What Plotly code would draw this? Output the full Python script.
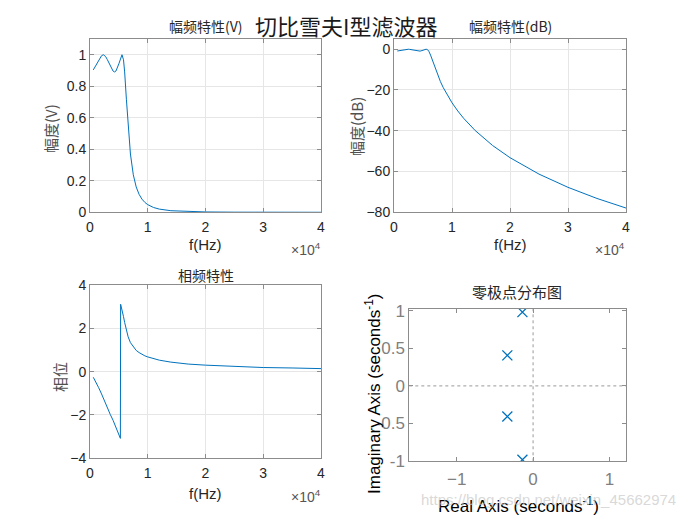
import plotly.graph_objects as go

# the page body adds an 8px margin; the figure fills the rest of the 692x519 window
OFF = 8
W, H = 692 - OFF, 519 - OFF

# ---- data ----
freq_hz = [570, 1000, 1500, 2000, 2300, 2500, 2700, 3000, 3500, 4000,
           4250, 4500, 5000, 5260, 5300, 5540, 5800, 6000, 6300, 6600,
           7000, 7500, 8000, 8500, 9000, 9500, 10000, 11000, 12000, 14000,
           17000, 20000, 25000, 30000, 35000, 40000]
mag_v = [0.904, 0.929, 0.965, 0.994, 1.000, 0.997, 0.989, 0.969, 0.927, 0.896,
         0.891, 0.897, 0.943, 0.978, 0.983, 1.000, 0.968, 0.891, 0.718, 0.544,
         0.370, 0.238, 0.161, 0.114, 0.0834, 0.0628, 0.0485, 0.0305, 0.0203, 0.0101,
         0.0043, 0.0022, 0.0009, 0.0004, 0.0002, 0.0001]
mag_db = [-0.88, -0.64, -0.31, -0.05, 0.00, -0.02, -0.10, -0.27, -0.66, -0.96,
          -1.00, -0.94, -0.52, -0.20, -0.15, 0.00, -0.28, -1.00, -2.88, -5.29,
          -8.63, -12.48, -15.87, -18.88, -21.58, -24.04, -26.29, -30.32, -33.87, -39.91,
          -47.24, -53.21, -61.27, -67.76, -73.21, -77.91]
phase_rad = [-0.26, -0.47, -0.74, -1.03, -1.23, -1.35, -1.48, -1.67, -1.97, -2.25,
             -2.40, -2.54, -2.88, -3.08, 3.11, 2.87, 2.54, 2.27, 1.90, 1.61,
             1.34, 1.13, 0.98, 0.88, 0.79, 0.73, 0.68, 0.59, 0.53, 0.44,
             0.35, 0.30, 0.23, 0.19, 0.17, 0.14]
pole_re = [-0.1395, -0.3369, -0.3369, -0.1395]
pole_im = [0.9834, 0.4073, -0.4073, -0.9834]

f_ticks = [0, 10000, 20000, 30000, 40000]
f_ticktext = ['0', '1', '2', '3', '4']

BLUE = '#0072BD'
FRAME = '#8c8c8c'
TXT = '#262626'
LBL = '#505050'
GRID = '#e6e6e6'
SANS = 'Liberation Sans, Arial, sans-serif'
CJK = 'Noto Sans CJK SC, sans-serif'


def px(xp):
    return (xp - OFF) / W


def py(yp):
    return 1 - (yp - OFF) / H


fig = go.Figure()
fig.add_trace(go.Scatter(x=freq_hz, y=mag_v, mode='lines', line=dict(color=BLUE, width=1),
                         xaxis='x', yaxis='y', showlegend=False))
fig.add_trace(go.Scatter(x=freq_hz, y=mag_db, mode='lines', line=dict(color=BLUE, width=1),
                         xaxis='x2', yaxis='y2', showlegend=False))
fig.add_trace(go.Scatter(x=freq_hz, y=phase_rad, mode='lines', line=dict(color=BLUE, width=1),
                         xaxis='x3', yaxis='y3', showlegend=False))
fig.add_trace(go.Scatter(x=pole_re, y=pole_im, mode='markers',
                         marker=dict(symbol='x-thin', size=10, line=dict(color=BLUE, width=1.3)),
                         xaxis='x4', yaxis='y4', showlegend=False))

common = dict(showline=True, linecolor=FRAME, linewidth=1, mirror='ticks', ticks='inside',
              ticklen=4, tickcolor=FRAME, showgrid=True, gridcolor=GRID, gridwidth=1,
              zeroline=False, automargin=False,
              tickfont=dict(family=SANS, size=14, color=TXT))
xcommon = dict(common, ticklabelstandoff=2)

dom_x_left = [px(90), px(321)]
dom_x_right = [px(394), px(626)]
dom_y_top = [py(212.3), py(39)]
dom_y_bot = [py(458.3), py(285)]

fig.update_layout(
    width=W, height=H, margin=dict(l=0, r=0, t=0, b=0),
    paper_bgcolor='white', plot_bgcolor='white',
    xaxis=dict(xcommon, domain=dom_x_left, range=[0, 40000], tickvals=f_ticks, ticktext=f_ticktext,
               anchor='y'),
    yaxis=dict(common, domain=dom_y_top, range=[0, 1.1], tickvals=[0, 0.2, 0.4, 0.6, 0.8, 1],
               ticktext=['0', '0.2', '0.4', '0.6', '0.8', '1'], anchor='x'),
    xaxis2=dict(xcommon, domain=dom_x_right, range=[0, 40000], tickvals=f_ticks, ticktext=f_ticktext,
                anchor='y2'),
    yaxis2=dict(common, domain=dom_y_top, range=[-80, 5], tickvals=[-80, -60, -40, -20, 0],
                anchor='x2'),
    xaxis3=dict(xcommon, domain=dom_x_left, range=[0, 40000], tickvals=f_ticks, ticktext=f_ticktext,
                anchor='y3'),
    yaxis3=dict(common, domain=dom_y_bot, range=[-4, 4], tickvals=[-4, -2, 0, 2, 4], anchor='x3'),
    xaxis4=dict(xcommon, domain=[px(409.3), px(626.3)], range=[-1.62, 1.22], tickvals=[-1, 0, 1],
                showgrid=False, anchor='y4',
                tickfont=dict(family=SANS, size=17, color='#808080')),
    yaxis4=dict(common, domain=[py(461.3), py(309)], range=[-1.005, 1.025],
                tickvals=[-1, -0.5, 0, 0.5, 1], ticktext=['-1', '-0.5', '0', '0.5', '1'],
                showgrid=False, anchor='x4',
                tickfont=dict(family=SANS, size=17, color='#808080')),
)

# dotted zero lines on the pole-zero map
fig.add_shape(type='line', xref='x4', yref='y4 domain', x0=0, x1=0, y0=0, y1=1,
              line=dict(color='#9a9a9a', width=1, dash='dot'))
fig.add_shape(type='line', xref='x4 domain', yref='y4', x0=0, x1=1, y0=0, y1=0,
              line=dict(color='#9a9a9a', width=1, dash='dot'))


def ann(text, x, y, size, color=TXT, family=CJK, angle=0, xanchor='center'):
    fig.add_annotation(text=text, x=px(x), y=py(y), xref='paper', yref='paper',
                       showarrow=False, textangle=angle, xanchor=xanchor, yanchor='middle',
                       font=dict(family=family, size=size, color=color))


# titles
ann('幅频特性(V)', 205.5, 26.5, 14)
ann('切比雪夫I型滤波器', 346, 25, 22, color='#1a1a1a')
ann('幅频特性(dB)', 510.5, 26.5, 14)
ann('相频特性', 205.5, 275, 14)
ann('零极点分布图', 517, 291, 15)

# x labels
ann('f(Hz)', 205.5, 245, 15, family=SANS)
ann('f(Hz)', 510.5, 245, 15, family=SANS)
ann('f(Hz)', 205.5, 493, 15, family=SANS)
ann('×10<sup>4</sup>', 323, 249, 14, color='#555555', family=SANS, xanchor='right')
ann('×10<sup>4</sup>', 627, 249, 14, color='#555555', family=SANS, xanchor='right')
ann('×10<sup>4</sup>', 323, 496, 14, color='#555555', family=SANS, xanchor='right')

# y labels
ann('幅度(V)', 51, 129, 15, color=LBL, angle=-90)
ann('幅度(dB)', 356, 127, 15, color=LBL, angle=-90)
ann('相位', 59, 377, 15, color=LBL, angle=-90)

# pole-zero axis labels
ann('Imaginary Axis (seconds<sup>-1</sup>)', 373, 393, 17, color='black', family=SANS, angle=-90)
ann('Real Axis (seconds<sup>-1</sup>)', 518, 505, 17, color='black', family=SANS)

# watermark
ann('https://blog.csdn.net/weixin_45662974', 548, 499, 15, color='rgba(200,200,200,0.7)', family=SANS)

fig.write_html('out.html')
